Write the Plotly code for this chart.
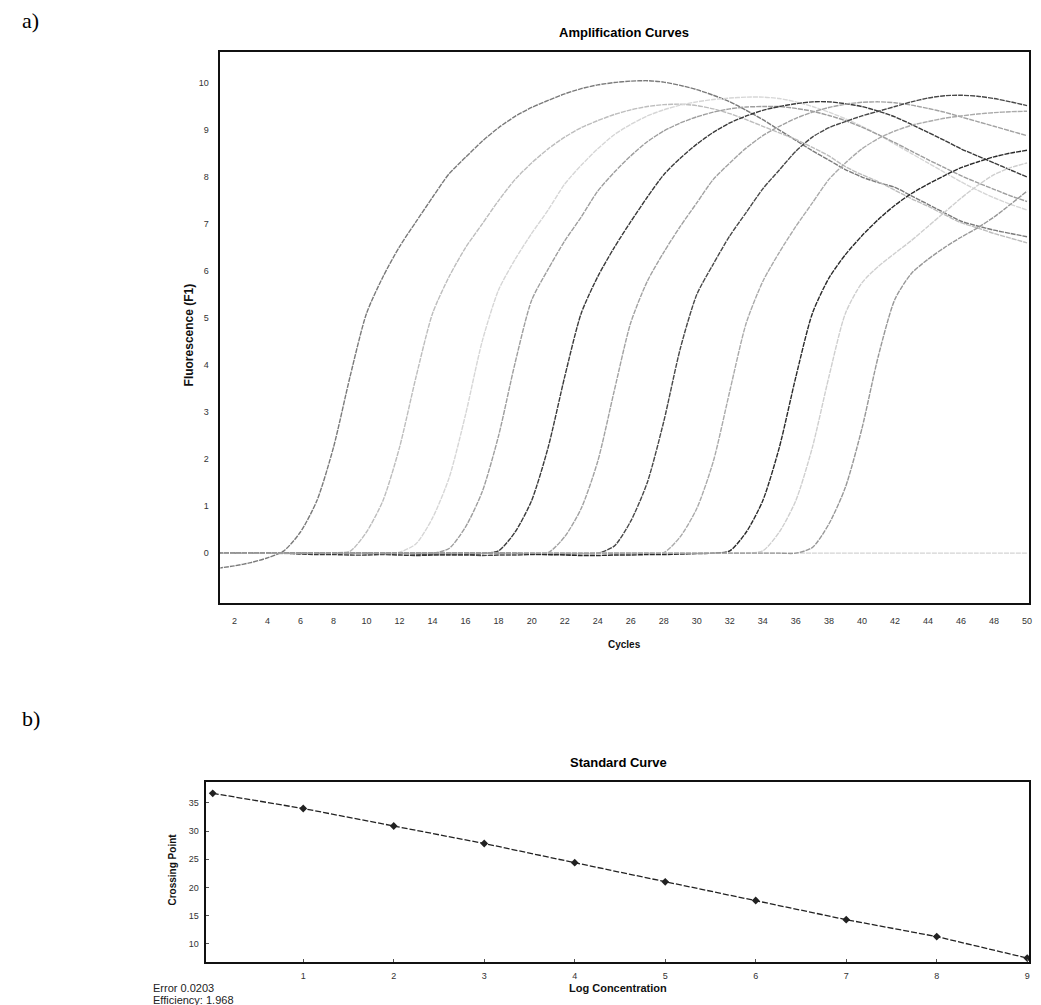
import plotly.graph_objects as go

W, H = 1041, 1005

# ---------------- data: amplification curves (fluorescence per cycle) ----------------
cycles = list(range(1, 51))

curve_01 = [-0.32, -0.27, -0.2, -0.1, 0.05, 0.45, 1.12, 2.25, 3.75, 5.1,
            5.88, 6.52, 7.05, 7.57, 8.07, 8.42, 8.76, 9.05, 9.29, 9.48,
            9.63, 9.77, 9.88, 9.96, 10.01, 10.04, 10.05, 10.02, 9.95, 9.86,
            9.74, 9.6, 9.42, 9.22, 9.0, 8.78, 8.56, 8.36, 8.16, 8.0,
            7.88, 7.78, 7.6, 7.42, 7.24, 7.06, 6.96, 6.87, 6.8, 6.73]
curve_02 = [0.0, 0.0, 0.01, 0.0, -0.01, 0.0, 0.0, 0.01, 0.04, 0.45,
            1.12, 2.25, 3.75, 5.1, 5.88, 6.5, 7.0, 7.5, 7.95, 8.3,
            8.6, 8.85, 9.05, 9.2, 9.33, 9.43, 9.5, 9.54, 9.55, 9.52,
            9.45, 9.35, 9.22, 9.08, 8.94, 8.8, 8.63, 8.45, 8.22, 8.05,
            7.9, 7.72, 7.54, 7.38, 7.2, 7.03, 6.92, 6.8, 6.7, 6.6]
curve_03 = [0.0, 0.0, 0.0, 0.01, 0.0, 0.0, -0.01, 0.0, 0.0, 0.01,
            0.0, 0.02, 0.2, 0.75, 1.6, 2.95, 4.5, 5.6, 6.25, 6.8,
            7.3, 7.85, 8.25, 8.6, 8.9, 9.12, 9.3, 9.43, 9.53, 9.6,
            9.65, 9.68, 9.7, 9.7, 9.67, 9.6, 9.5, 9.38, 9.24, 9.08,
            8.9, 8.7, 8.5, 8.3, 8.1, 7.9, 7.72, 7.56, 7.42, 7.3]
curve_04 = [0.0, 0.0, 0.0, 0.0, 0.01, 0.0, 0.0, -0.01, 0.0, 0.0,
            -0.02, -0.02, 0.0, 0.0, 0.1, 0.56, 1.3, 2.5, 4.05, 5.38,
            6.04, 6.64, 7.15, 7.7, 8.1, 8.45, 8.75, 8.98, 9.15, 9.28,
            9.38, 9.45, 9.49, 9.5, 9.5, 9.46, 9.4, 9.31, 9.2, 9.06,
            8.9, 8.73, 8.55, 8.37, 8.2, 8.03, 7.88, 7.74, 7.6, 7.48]
curve_05 = [0.0, 0.0, 0.0, 0.0, 0.0, -0.02, -0.03, -0.03, -0.04, -0.04,
            -0.03, -0.04, -0.05, -0.04, -0.03, -0.03, -0.01, 0.05, 0.45, 1.12,
            2.25, 3.75, 5.1, 5.88, 6.5, 7.05, 7.57, 8.05, 8.4, 8.7,
            8.95, 9.15, 9.3, 9.42, 9.5, 9.56, 9.6, 9.6, 9.56, 9.5,
            9.4, 9.28, 9.12, 8.95, 8.78, 8.6, 8.45, 8.3, 8.15, 8.0]
curve_06 = [0.0, 0.0, 0.0, 0.0, 0.0, 0.0, 0.01, 0.0, 0.0, 0.0,
            -0.01, 0.0, 0.0, 0.0, 0.0, 0.01, 0.0, 0.0, -0.01, 0.0,
            0.01, 0.35, 0.95, 1.95, 3.45, 4.9, 5.78, 6.4, 6.95, 7.45,
            7.95, 8.3, 8.62, 8.88, 9.08, 9.25, 9.38, 9.48, 9.55, 9.59,
            9.6, 9.58, 9.53, 9.46, 9.38, 9.28, 9.18, 9.08, 8.98, 8.88]
curve_07 = [0.0, 0.0, 0.0, 0.0, 0.0, 0.0, 0.0, 0.0, 0.0, 0.0,
            0.0, 0.0, -0.02, -0.03, -0.04, -0.04, -0.05, -0.04, -0.04, -0.03,
            -0.03, -0.02, -0.01, 0.0, 0.15, 0.68, 1.5, 2.8, 4.35, 5.5,
            6.15, 6.75, 7.25, 7.75, 8.15, 8.55, 8.85, 9.05, 9.18, 9.3,
            9.4, 9.5, 9.6, 9.68, 9.73, 9.74, 9.72, 9.67, 9.6, 9.52]
curve_08 = [0.0, 0.0, 0.0, 0.0, 0.0, 0.0, 0.0, 0.0, 0.0, 0.0,
            0.0, 0.0, 0.0, 0.0, 0.0, 0.0, 0.0, 0.0, 0.0, 0.0,
            0.0, 0.0, 0.0, 0.0, 0.0, 0.0, 0.0, 0.01, 0.35, 0.95,
            1.95, 3.45, 4.9, 5.78, 6.4, 6.95, 7.45, 7.95, 8.3, 8.6,
            8.82, 8.98, 9.1, 9.18, 9.25, 9.3, 9.34, 9.37, 9.39, 9.4]
curve_09 = [0.0, 0.0, 0.0, 0.0, 0.0, 0.0, 0.0, 0.0, 0.0, 0.0,
            0.0, 0.0, 0.0, 0.0, 0.0, 0.0, 0.0, 0.0, 0.0, -0.02,
            -0.03, -0.04, -0.05, -0.05, -0.04, -0.04, -0.03, -0.03, -0.02, -0.01,
            0.0, 0.05, 0.45, 1.12, 2.25, 3.75, 5.1, 5.85, 6.35, 6.75,
            7.1, 7.4, 7.65, 7.85, 8.03, 8.2, 8.32, 8.43, 8.51, 8.57]
curve_10 = [0.0, 0.0, 0.0, 0.0, 0.0, 0.0, 0.0, 0.0, 0.0, 0.0,
            0.0, 0.0, 0.0, 0.0, 0.0, 0.0, 0.0, 0.0, 0.0, 0.0,
            0.0, 0.0, 0.0, 0.0, 0.0, 0.0, 0.0, 0.0, 0.0, 0.0,
            0.0, 0.0, 0.0, 0.05, 0.45, 1.12, 2.25, 3.75, 5.1, 5.75,
            6.1, 6.38, 6.65, 6.95, 7.25, 7.55, 7.82, 8.05, 8.2, 8.3]
curve_11 = [0.0, 0.0, 0.0, 0.0, 0.0, 0.0, 0.0, 0.0, 0.0, 0.0,
            0.0, 0.0, 0.0, 0.0, 0.0, 0.0, 0.0, 0.0, 0.0, 0.0,
            0.0, 0.0, 0.0, 0.0, 0.0, 0.0, 0.0, 0.0, 0.0, 0.0,
            0.0, 0.0, 0.0, 0.0, 0.0, 0.0, 0.12, 0.62, 1.4, 2.65,
            4.2, 5.4, 5.95, 6.25, 6.5, 6.72, 6.92, 7.15, 7.42, 7.7]
negative_ctrl = [0.0, 0.0, 0.0, 0.0, 0.0, 0.0, 0.0, 0.0, 0.0, 0.0,
                 0.0, 0.0, 0.0, 0.0, 0.0, 0.0, 0.0, 0.0, 0.0, 0.0,
                 0.0, 0.0, 0.0, 0.0, 0.0, 0.0, 0.0, 0.0, 0.0, 0.0,
                 0.0, 0.0, 0.0, 0.0, 0.0, 0.0, 0.0, 0.0, 0.0, 0.0,
                 0.0, 0.0, 0.0, 0.0, 0.0, 0.0, 0.0, 0.0, 0.0, 0.0]

curves = [negative_ctrl, curve_01, curve_02, curve_03, curve_04, curve_05,
          curve_06, curve_07, curve_08, curve_09, curve_10, curve_11]
curve_colors = ["#d4d4d4", "#7a7a7a", "#bdbdbd", "#d6d6d6", "#9e9e9e", "#3a3a3a",
                "#a2a2a2", "#484848", "#aaaaaa", "#2a2a2a", "#cfcfcf", "#989898"]

x_ticks_top = [2, 4, 6, 8, 10, 12, 14, 16, 18, 20, 22, 24, 26, 28, 30,
               32, 34, 36, 38, 40, 42, 44, 46, 48, 50]
y_ticks_top = [0, 1, 2, 3, 4, 5, 6, 7, 8, 9, 10]

# ---------------- data: standard curve ----------------
log_concentration = [0, 1, 2, 3, 4, 5, 6, 7, 8, 9]
crossing_point = [36.7, 34.0, 30.9, 27.8, 24.4, 21.0, 17.7, 14.3, 11.3, 7.5]
x_ticks_std = [1, 2, 3, 4, 5, 6, 7, 8, 9]
y_ticks_std = [10, 15, 20, 25, 30, 35]


def px(x):
    return x / W


def py(y):
    return 1 - y / H


fig = go.Figure()

for vals, col in zip(curves, curve_colors):
    fig.add_trace(go.Scatter(
        x=cycles, y=vals, mode="lines", xaxis="x", yaxis="y",
        line=dict(color=col, width=1.4, dash="5px,1px", shape="spline", smoothing=0.7),
        showlegend=False, hoverinfo="skip"))

fig.add_trace(go.Scatter(
    x=log_concentration, y=crossing_point, mode="lines+markers", xaxis="x2", yaxis="y2",
    line=dict(color="#222222", width=1.3, dash="6px,2px"),
    marker=dict(symbol="diamond", size=6, color="#222222"),
    showlegend=False, hoverinfo="skip"))

tick_font = dict(family="Liberation Sans, Arial, sans-serif", size=9, color="#333333")
bold_font = dict(family="Liberation Sans, Arial, sans-serif", size=10, color="#111111")

fig.update_layout(
    width=W, height=H,
    margin=dict(l=0, r=0, t=0, b=0),
    paper_bgcolor="white", plot_bgcolor="white",
    xaxis=dict(domain=[px(221), px(1032)], range=[1.15, 50.12], anchor="y",
               tickvals=x_ticks_top, ticktext=[str(v) for v in x_ticks_top],
               showline=True, mirror=True, linecolor="#111111", linewidth=1.5,
               showgrid=False, zeroline=False, ticks="", tickfont=tick_font,
               ticklabelstandoff=8),
    yaxis=dict(domain=[py(603), py(52)], range=[-1.06, 10.66], anchor="x",
               tickvals=y_ticks_top, ticktext=[str(v) for v in y_ticks_top],
               showline=True, mirror=True, linecolor="#111111", linewidth=1.8,
               showgrid=False, zeroline=False, ticks="", tickfont=tick_font,
               ticklabelstandoff=8),
    xaxis2=dict(domain=[px(207), px(1032)], range=[-0.07, 9.02], anchor="y2",
                tickvals=x_ticks_std, ticktext=[str(v) for v in x_ticks_std],
                showline=True, mirror=True, linecolor="#111111", linewidth=1.5,
                showgrid=False, zeroline=False, ticks="inside", ticklen=3,
                tickcolor="#555555", tickfont=tick_font, ticklabelstandoff=4),
    yaxis2=dict(domain=[py(962), py(782)], range=[6.8, 38.7], anchor="x2",
                tickvals=y_ticks_std, ticktext=[str(v) for v in y_ticks_std],
                showline=True, mirror=True, linecolor="#111111", linewidth=1.5,
                showgrid=False, zeroline=False, ticks="inside", ticklen=3,
                tickcolor="#555555", tickfont=tick_font, ticklabelstandoff=4),
)

annotations = [
    dict(text="a)", x=px(20), y=py(20), xanchor="left", yanchor="middle",
         font=dict(family="Liberation Serif, Times New Roman, serif", size=22, color="#000000")),
    dict(text="b)", x=px(20), y=py(718), xanchor="left", yanchor="middle",
         font=dict(family="Liberation Serif, Times New Roman, serif", size=22, color="#000000")),
    dict(text="<b>Amplification Curves</b>", x=px(626), y=py(32), xanchor="center", yanchor="middle",
         font=dict(family="Liberation Sans, Arial, sans-serif", size=13, color="#000000")),
    dict(text="<b>Fluorescence (F1)</b>", x=px(190), y=py(335), xanchor="center", yanchor="middle",
         textangle=-90, font=dict(family="Liberation Sans, Arial, sans-serif", size=12, color="#111111")),
    dict(text="<b>Cycles</b>", x=px(626), y=py(644), xanchor="center", yanchor="middle",
         font=bold_font),
    dict(text="<b>Standard Curve</b>", x=px(620), y=py(762), xanchor="center", yanchor="middle",
         font=dict(family="Liberation Sans, Arial, sans-serif", size=13, color="#000000")),
    dict(text="<b>Crossing Point</b>", x=px(172), y=py(870), xanchor="center", yanchor="middle",
         textangle=-90, font=bold_font),
    dict(text="<b>Log Concentration</b>", x=px(620), y=py(988), xanchor="center", yanchor="middle",
         font=dict(family="Liberation Sans, Arial, sans-serif", size=11, color="#111111")),
    dict(text="Error 0.0203", x=px(151), y=py(988), xanchor="left", yanchor="middle",
         font=dict(family="Liberation Sans, Arial, sans-serif", size=11, color="#222222")),
    dict(text="Efficiency: 1.968", x=px(151), y=py(1000), xanchor="left", yanchor="middle",
         font=dict(family="Liberation Sans, Arial, sans-serif", size=11, color="#222222")),
]
for a in annotations:
    a.update(xref="paper", yref="paper", showarrow=False)
fig.update_layout(annotations=annotations)

fig.write_html("out.html")
